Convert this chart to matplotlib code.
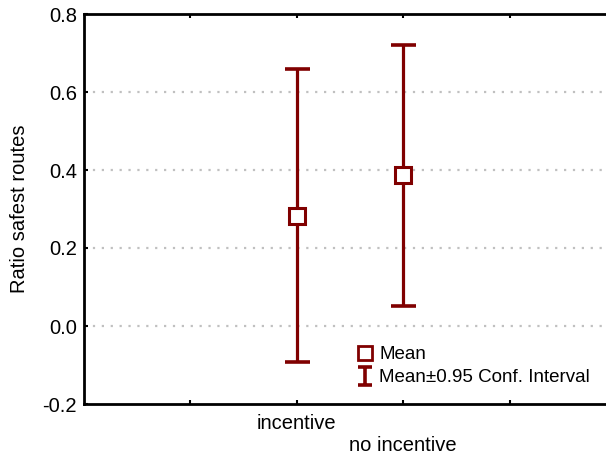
import matplotlib
matplotlib.use("Agg")
import matplotlib.pyplot as plt
from matplotlib.lines import Line2D
from matplotlib.path import Path

plt.rcParams['font.family'] = ['Liberation Sans', 'DejaVu Sans']

# data
groups = ["incentive", "no incentive"]
means = [0.282, 0.386]
ci_upper = [0.658, 0.721]
ci_lower = [-0.092, 0.051]

positions = [2, 3]
red = "#800000"

fig = plt.figure(figsize=(6.06, 4.58), dpi=100)
ax = fig.add_axes([84 / 606, 1 - 404 / 458, 532 / 606, 390 / 458])

yerr = [[m - lo for m, lo in zip(means, ci_lower)],
        [hi - m for m, hi in zip(means, ci_upper)]]
ax.errorbar(positions, means, yerr=yerr, fmt='none', ecolor=red,
            elinewidth=2.3, capsize=9, capthick=2.6, zorder=3)
ax.plot(positions, means, 's', color=red, markerfacecolor='white',
        markeredgewidth=2.2, markersize=11, zorder=4)

ax.set_xlim(0, 5)
ax.set_ylim(-0.2, 0.8)
ax.set_yticks([-0.2, 0.0, 0.2, 0.4, 0.6, 0.8])
ax.set_yticklabels(["-0.2", "0.0", "0.2", "0.4", "0.6", "0.8"])
ax.set_xticks([1, 2, 3, 4])
ax.set_xticklabels(["", groups[0], "\n" + groups[1], ""])
ax.tick_params(axis='both', direction='in', length=3, width=1.5,
               labelsize=14.5, top=True)
ax.tick_params(axis='x', pad=7)
ax.tick_params(axis='y', pad=5)

for y in [0.0, 0.2, 0.4, 0.6]:
    ax.axhline(y, color='#c0c0c0', linestyle=(0, (1, 3)), linewidth=1.6, zorder=1)

for s in ax.spines.values():
    s.set_linewidth(2)

ax.set_ylabel("Ratio safest routes", fontsize=14.5, labelpad=10)

# legend handles: hollow square and an I-beam for the interval
ibeam = Path([(-0.8, 1), (0.8, 1), (0, 1), (0, -1), (-0.8, -1), (0.8, -1)],
             [Path.MOVETO, Path.LINETO, Path.MOVETO, Path.LINETO,
              Path.MOVETO, Path.LINETO])
mean_handle = Line2D([], [], marker='s', linestyle='none', color=red,
                     markerfacecolor='white', markeredgewidth=2, markersize=10)
ci_handle = Line2D([], [], marker=ibeam, linestyle='none', color=red,
                   markerfacecolor='none', markeredgewidth=2.6, markersize=13)
ax.legend([mean_handle, ci_handle], ["Mean", "Mean\u00b10.95 Conf. Interval"],
          loc='upper left', bbox_to_anchor=(0.511, 0.148),
          frameon=False, fontsize=13.5, handlelength=1.0, handletextpad=0.25,
          labelspacing=0.3, borderpad=0, borderaxespad=0)

fig.savefig("out.png", dpi=100)
